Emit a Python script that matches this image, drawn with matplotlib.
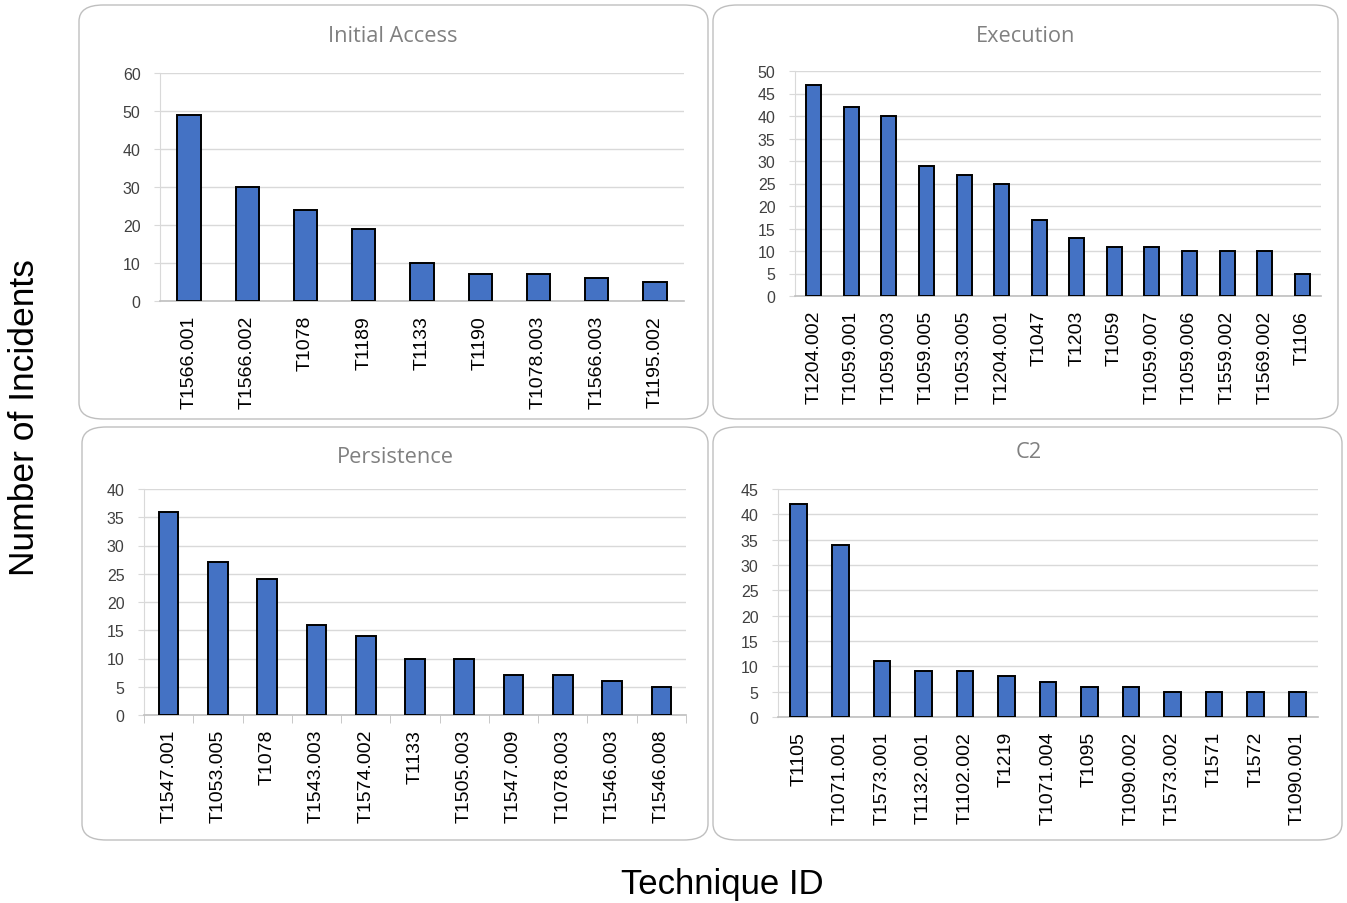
import matplotlib
matplotlib.use("Agg")
import matplotlib.pyplot as plt
from matplotlib.patches import FancyBboxPatch
import numpy as np

plt.rcParams['font.family'] = ['Liberation Sans', 'DejaVu Sans']

# ---- data ----
ia_labels = ["T1566.001", "T1566.002", "T1078", "T1189", "T1133", "T1190",
             "T1078.003", "T1566.003", "T1195.002"]
ia_values = [49, 30, 24, 19, 10, 7, 7, 6, 5]

ex_labels = ["T1204.002", "T1059.001", "T1059.003", "T1059.005", "T1053.005",
             "T1204.001", "T1047", "T1203", "T1059", "T1059.007", "T1059.006",
             "T1559.002", "T1569.002", "T1106"]
ex_values = [47, 42, 40, 29, 27, 25, 17, 13, 11, 11, 10, 10, 10, 5]

pe_labels = ["T1547.001", "T1053.005", "T1078", "T1543.003", "T1574.002",
             "T1133", "T1505.003", "T1547.009", "T1078.003", "T1546.003",
             "T1546.008"]
pe_values = [36, 27, 24, 16, 14, 10, 10, 7, 7, 6, 5]

c2_labels = ["T1105", "T1071.001", "T1573.001", "T1132.001", "T1102.002",
             "T1219", "T1071.004", "T1095", "T1090.002", "T1573.002", "T1571",
             "T1572", "T1090.001"]
c2_values = [42, 34, 11, 9, 9, 8, 7, 6, 6, 5, 5, 5, 5]

titles = ["Initial Access", "Execution", "Persistence", "C2"]
ymax = [60, 50, 40, 45]
ystep = [10, 5, 5, 5]

W, H = 1347, 904
fig = plt.figure(figsize=(W / 100, H / 100), dpi=100)


def fx(px):
    return px / W


def fy(py):
    return 1 - py / H


# rounded panel boxes (pixel coords: x0, y0, x1, y1)
boxes = [(79, 6, 708, 420), (713, 6, 1338, 420), (82, 428, 708, 841), (713, 428, 1342, 841)]
for (x0, y0, x1, y1) in boxes:
    p = FancyBboxPatch((fx(x0), fy(y1)), fx(x1 - x0), (y1 - y0) / H,
                       boxstyle="round,pad=0,rounding_size=0.018",
                       transform=fig.transFigure, facecolor="none",
                       edgecolor="#bfbfbf", linewidth=1.0, zorder=-1)
    fig.patches.append(p)

# axes rects (pixel coords: left, top, right, bottom)
rects = [(160, 74, 684, 302), (795, 72, 1321, 297), (144, 490, 686, 716), (778, 490, 1318, 718)]
title_pos = [(393, 37), (1026, 36), (395, 458), (1029, 453)]
data = [(ia_labels, ia_values), (ex_labels, ex_values),
        (pe_labels, pe_values), (c2_labels, c2_values)]

for i, ((l, t, r, b), (labels, values)) in enumerate(zip(rects, data)):
    ax = fig.add_axes([fx(l), fy(b), fx(r - l), (b - t) / H])
    ax.set_facecolor("none")
    x = np.arange(len(labels))
    ax.bar(x, values, width=0.4, color="#4472C4", edgecolor="black",
           linewidth=1.4, zorder=3)
    ax.set_xlim(-0.5, len(labels) - 0.5)
    ax.set_ylim(0, ymax[i])
    ax.set_yticks(np.arange(0, ymax[i] + 1, ystep[i]))
    ax.yaxis.grid(True, color="#d9d9d9", linewidth=1.0, zorder=0)
    ax.set_axisbelow(True)
    ax.set_xticks(x)
    ax.set_xticklabels(labels, rotation=90, fontsize=14, color="black")
    ax.tick_params(axis="x", length=0, pad=10)
    ax.tick_params(axis="y", length=4, color="#d9d9d9", labelsize=11.5,
                   labelcolor="#404040", pad=10)
    for s in ["top", "right"]:
        ax.spines[s].set_visible(False)
    ax.spines["left"].set_color("#d9d9d9")
    ax.spines["bottom"].set_color("#bfbfbf")
    ax.spines["bottom"].set_linewidth(1.2)
    if i == 2:
        ax.set_xticks(np.arange(-0.5, len(labels)), minor=True)
        ax.tick_params(axis="x", which="minor", length=6, color="#bfbfbf")
    tx, ty = title_pos[i]
    fig.text(fx(tx), fy(ty), titles[i], ha="center", va="center",
             fontsize=15.7, color="#808080", family=["Open Sans", "DejaVu Sans"])

fig.text(fx(25), fy(418), "Number of Incidents", rotation=90, ha="center",
         va="center", fontsize=25.5, color="black")
fig.text(fx(722), fy(885), "Technique ID", ha="center", va="center",
         fontsize=25, color="black")

fig.savefig("out.png", dpi=100)
